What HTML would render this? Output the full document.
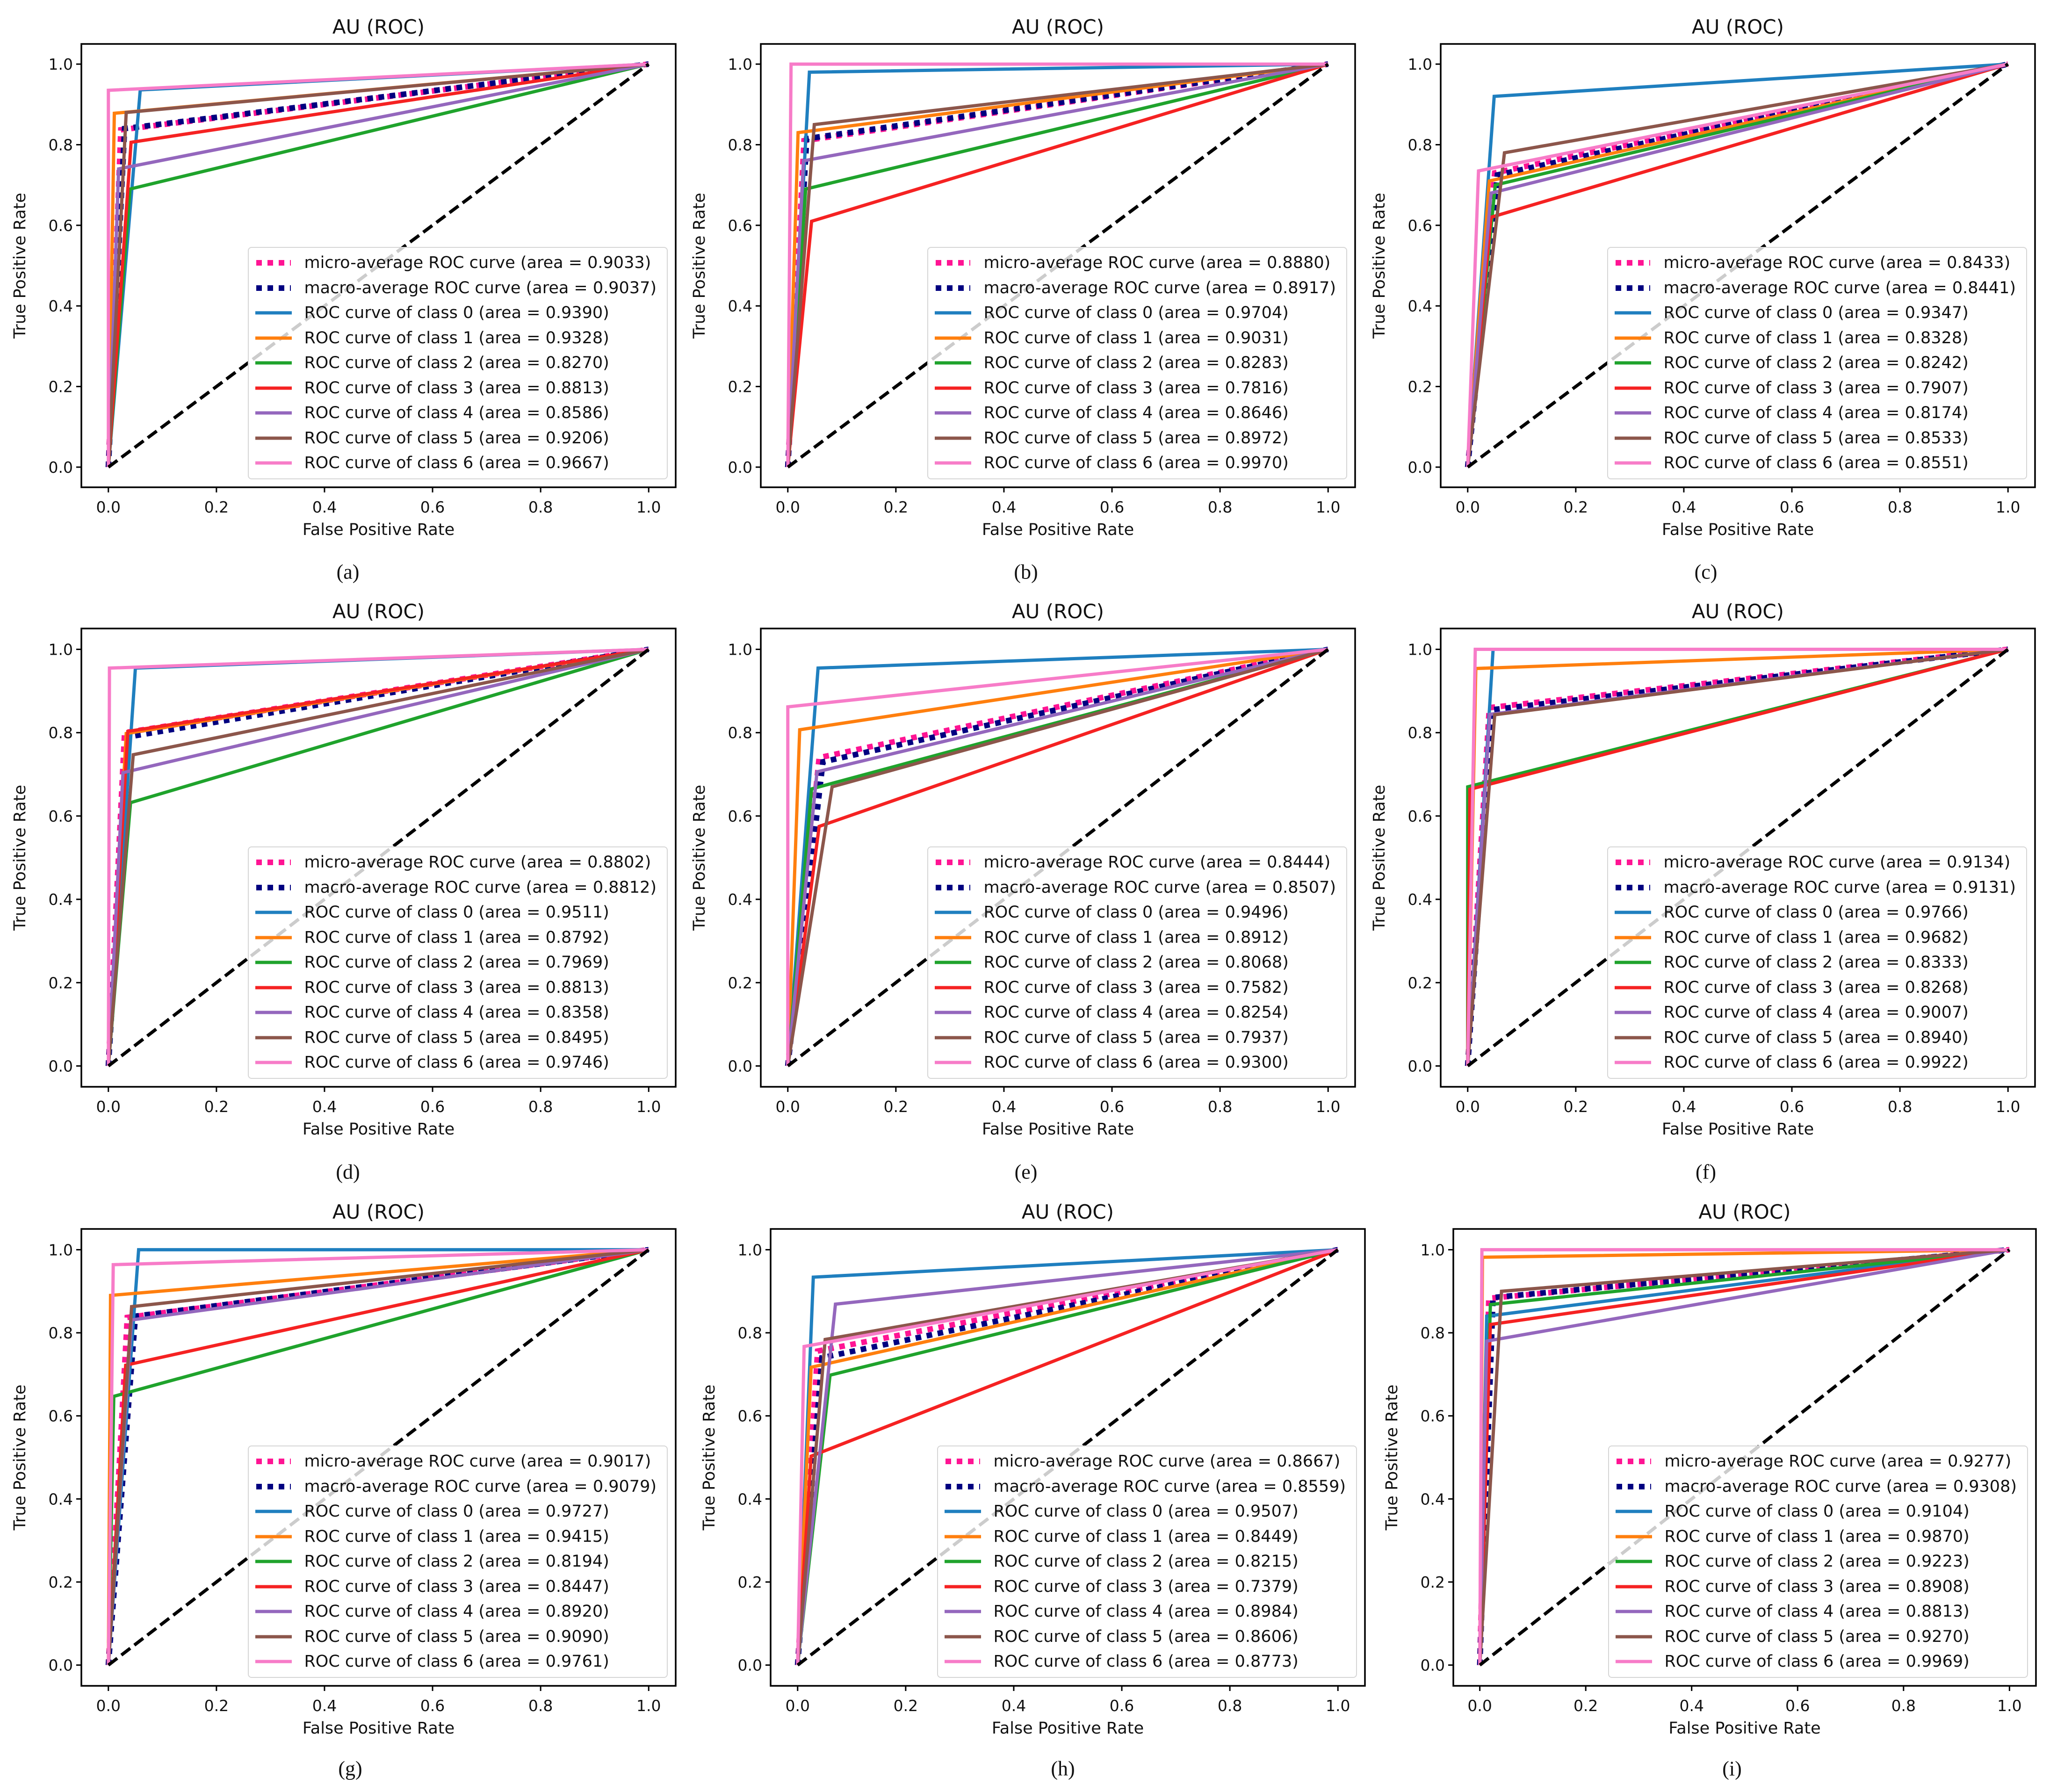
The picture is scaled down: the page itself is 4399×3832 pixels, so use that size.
<!DOCTYPE html>
<html><head><meta charset="utf-8">
<style>
html,body{margin:0;padding:0;background:#fff;}
#root{position:relative;width:4399px;height:3832px;overflow:hidden;background:#fff;}
svg{position:absolute;left:0;top:0;}
.legend{position:absolute;background:rgba(255,255,255,0.8);border:2px solid #d6d6d6;border-radius:8px;padding:6px 22px 6px 14px;font-family:"DejaVu Sans","Liberation Sans",sans-serif;font-size:35px;color:#111;}
.lrow{height:53.5px;display:flex;align-items:center;white-space:nowrap;}
.lrow svg{position:static;margin-right:26px;flex:none;}
.cap{position:absolute;font-family:"Liberation Serif",serif;font-size:44px;transform:translate(-50%,-50%);color:#111;}
</style></head>
<body>
<div id="root">
<svg id="plot" width="4399" height="3832"></svg>
</div>
<script>
// ---- data ----
const panelIds = ['a','b','c','d','e','f','g','h','i'];
const classFPR = [
 [0.059,0.011,0.04,0.042,0.019,0.033,0.0],
 [0.04,0.019,0.033,0.044,0.029,0.049,0.006],
 [0.049,0.04,0.051,0.043,0.043,0.068,0.02],
 [0.05,0.033,0.041,0.036,0.027,0.046,0.002],
 [0.056,0.022,0.044,0.058,0.054,0.082,0.0],
 [0.047,0.015,0.0,0.004,0.041,0.05,0.014],
 [0.056,0.004,0.01,0.032,0.043,0.043,0.009],
 [0.029,0.025,0.06,0.025,0.07,0.051,0.012],
 [0.013,0.005,0.02,0.02,0.013,0.041,0.004]
];
const classTPR = [
 [0.936,0.878,0.69,0.806,0.74,0.88,0.935],
 [0.98,0.83,0.69,0.61,0.76,0.85,1.0],
 [0.92,0.71,0.70,0.62,0.68,0.78,0.735],
 [0.955,0.798,0.632,0.803,0.704,0.747,0.955],
 [0.955,0.807,0.665,0.575,0.706,0.67,0.862],
 [1.0,0.954,0.67,0.664,0.844,0.843,1.0],
 [1.0,0.89,0.647,0.722,0.831,0.863,0.964],
 [0.934,0.717,0.698,0.503,0.869,0.784,0.767],
 [0.84,0.982,0.868,0.82,0.78,0.9,1.0]
];
const microFPR = [0.023,0.03,0.05,0.03,0.058,0.04,0.035,0.037,0.017];
const microTPR = [0.837,0.81,0.73,0.80,0.74,0.86,0.837,0.756,0.883];
const macroFPR = [0.03,0.035,0.055,0.037,0.065,0.045,0.05,0.045,0.025];
const macroTPR = [0.84,0.815,0.725,0.79,0.73,0.855,0.84,0.74,0.885];
const microArea = ['0.9033','0.8880','0.8433','0.8802','0.8444','0.9134','0.9017','0.8667','0.9277'];
const macroArea = ['0.9037','0.8917','0.8441','0.8812','0.8507','0.9131','0.9079','0.8559','0.9308'];
const classArea = [
 ['0.9390','0.9328','0.8270','0.8813','0.8586','0.9206','0.9667'],
 ['0.9704','0.9031','0.8283','0.7816','0.8646','0.8972','0.9970'],
 ['0.9347','0.8328','0.8242','0.7907','0.8174','0.8533','0.8551'],
 ['0.9511','0.8792','0.7969','0.8813','0.8358','0.8495','0.9746'],
 ['0.9496','0.8912','0.8068','0.7582','0.8254','0.7937','0.9300'],
 ['0.9766','0.9682','0.8333','0.8268','0.9007','0.8940','0.9922'],
 ['0.9727','0.9415','0.8194','0.8447','0.8920','0.9090','0.9761'],
 ['0.9507','0.8449','0.8215','0.7379','0.8984','0.8606','0.8773'],
 ['0.9104','0.9870','0.9223','0.8908','0.8813','0.9270','0.9969']
];
const tickLabels = ['0.0','0.2','0.4','0.6','0.8','1.0'];
const tickValues = [0,0.2,0.4,0.6,0.8,1.0];
// ---- layout ----
const boxes = [
 [174,1445,94,1042],[1627,2898,94,1042],[3081,4352,94,1042],
 [174,1445,1344,2324],[1627,2898,1344,2324],[3081,4352,1344,2324],
 [174,1445,2628,3605],[1648,2919,2628,3605],[3108,4354,2628,3605]
];
const capPos = [[744,1223],[2194,1223],[3648,1223],[744,2506],[2194,2506],[3648,2506],[749,3782],[2273,3782],[3704,3782]];
const classColors = ['#1f7fbf','#ff7f0e','#1fa32c','#f52222','#9467bd','#8c564b','#f77cc8'];
const NS='http://www.w3.org/2000/svg';
const svg=document.getElementById('plot');
const root=document.getElementById('root');
function mk(tag,attrs,parent){const e=document.createElementNS(NS,tag);for(const k in attrs)e.setAttribute(k,attrs[k]);(parent||svg).appendChild(e);return e;}

panelIds.forEach((pid,p)=>{
  const [L,R,T,B]=boxes[p];
  const sx=v=>L+(v+0.05)/1.1*(R-L);
  const sy=v=>B-(v+0.05)/1.1*(B-T);
  const g=mk('g',{});
  
  
  const cid='clip'+pid;
  const cp=mk('clipPath',{id:cid},g);
  mk('rect',{x:L,y:T,width:R-L,height:B-T},cp);
  const lines=mk('g',{'clip-path':'url(#'+cid+')'},g);
  const avg=[[microFPR,microTPR,'#ff1493','micro-average-curve'],[macroFPR,macroTPR,'#000080','macro-average-curve']];
  avg.forEach(([fa,ta,col,nm])=>{
    const pts=[[0,0],[fa[p],ta[p]],[1,1]].map(q=>sx(q[0])+','+sy(q[1])).join(' ');
    const pl=mk('polyline',{points:pts,fill:'none',stroke:col,'stroke-width':12,'stroke-dasharray':'12 12'},lines);
    
    
  });
  for(let c=0;c<7;c++){
    const pts=[[0,0],[classFPR[p][c],classTPR[p][c]],[1,1]].map(q=>sx(q[0])+','+sy(q[1])).join(' ');
    const pl=mk('polyline',{points:pts,fill:'none',stroke:classColors[c],'stroke-width':7,'stroke-linejoin':'miter'},lines);
    
    
  }
  const dg=mk('line',{x1:sx(0),y1:sy(0),x2:sx(1),y2:sy(1),stroke:'#000','stroke-width':7,'stroke-dasharray':'24 11'},lines);
  
  
  const fr=mk('rect',{x:L,y:T,width:R-L,height:B-T,fill:'none',stroke:'#000','stroke-width':3.5},g);
  
  
  tickValues.forEach((v,i)=>{
    mk('line',{x1:sx(v),y1:B,x2:sx(v),y2:B+11,stroke:'#000','stroke-width':3},g);
    const tx=mk('text',{x:sx(v),y:B+54,'text-anchor':'middle','font-family':'DejaVu Sans, Liberation Sans, sans-serif','font-size':33,fill:'#111'},g);
    tx.textContent=tickLabels[i];
    
    
    mk('line',{x1:L,y1:sy(v),x2:L-11,y2:sy(v),stroke:'#000','stroke-width':3},g);
    const ty=mk('text',{x:L-18,y:sy(v)+12,'text-anchor':'end','font-family':'DejaVu Sans, Liberation Sans, sans-serif','font-size':33,fill:'#111'},g);
    ty.textContent=tickLabels[i];
    
    
  });
  const xl=mk('text',{x:(L+R)/2,y:B+102,'text-anchor':'middle','font-family':'DejaVu Sans, Liberation Sans, sans-serif','font-size':35,fill:'#111'},g);
  xl.textContent='False Positive Rate';
  
  
  const yc=(T+B)/2, yx=L-120;
  const yl=mk('text',{x:yx,y:yc,'text-anchor':'middle','font-family':'DejaVu Sans, Liberation Sans, sans-serif','font-size':35,fill:'#111',transform:'rotate(-90 '+yx+' '+yc+')'},g);
  yl.textContent='True Positive Rate';
  
  
  const tt=mk('text',{x:(L+R)/2,y:T-22,'text-anchor':'middle','font-family':'DejaVu Sans, Liberation Sans, sans-serif','font-size':42,fill:'#111'},g);
  tt.textContent='AU (ROC)';
  
  
  const lg=document.createElement('div');
  lg.className='legend';
  
  
  lg.style.right=(4399-(R-17))+'px';
  lg.style.bottom=(3832-(B-17))+'px';
  const entries=[['#ff1493',true,'micro-average ROC curve (area = '+microArea[p]+')'],['#000080',true,'macro-average ROC curve (area = '+macroArea[p]+')']];
  for(let c=0;c<7;c++) entries.push([classColors[c],false,'ROC curve of class '+c+' (area = '+classArea[p][c]+')']);
  entries.forEach(([col,dot,label])=>{
    const r=document.createElement('div');
    r.className='lrow';
    
    
    const h=dot?'<line x1="2" y1="10" x2="76" y2="10" stroke="'+col+'" stroke-width="12" stroke-dasharray="12 12"/>':'<line x1="0" y1="10" x2="78" y2="10" stroke="'+col+'" stroke-width="7"/>';
    r.innerHTML='<svg width="78" height="20">'+h+'</svg><span>'+label+'</span>';
    lg.appendChild(r);
  });
  root.appendChild(lg);
  const cap=document.createElement('div');
  cap.className='cap';
  
  
  cap.style.left=capPos[p][0]+'px';
  cap.style.top=capPos[p][1]+'px';
  cap.textContent='('+pid+')';
  root.appendChild(cap);
});
</script>
</body></html>
